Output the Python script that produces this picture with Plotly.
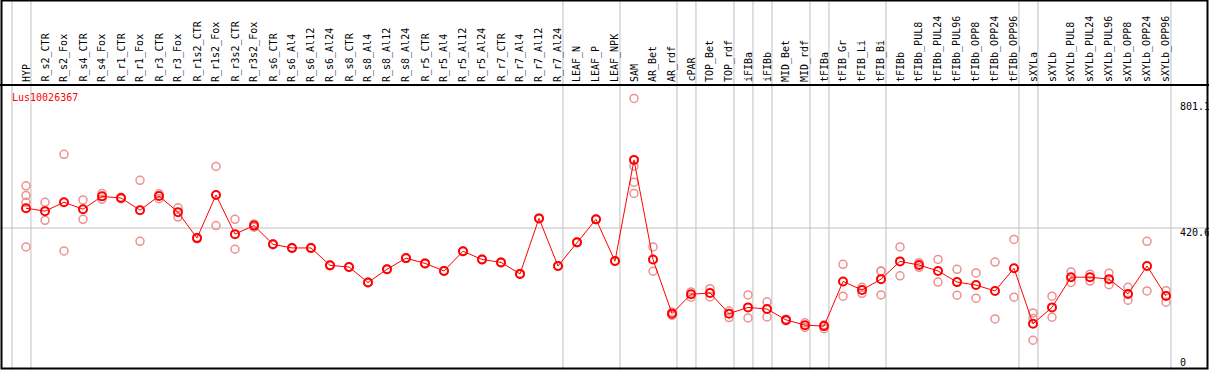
import plotly.graph_objects as go

categories = ["HYP", "R_s2_CTR", "R_s2_Fox", "R_s4_CTR", "R_s4_Fox", "R_r1_CTR", "R_r1_Fox",
              "R_r3_CTR", "R_r3_Fox", "R_r1s2_CTR", "R_r1s2_Fox", "R_r3s2_CTR", "R_r3s2_Fox",
              "R_s6_CTR", "R_s6_Al4", "R_s6_Al12", "R_s6_Al24", "R_s8_CTR", "R_s8_Al4", "R_s8_Al12",
              "R_s8_Al24", "R_r5_CTR", "R_r5_Al4", "R_r5_Al12", "R_r5_Al24", "R_r7_CTR", "R_r7_Al4",
              "R_r7_Al12", "R_r7_Al24", "LEAF_N", "LEAF_P", "LEAF_NPK", "SAM", "AR_Bet", "AR_rdf",
              "cPAR", "TOP_Bet", "TOP_rdf", "iFIBa", "iFIBb", "MID_Bet", "MID_rdf", "tFIBa",
              "tFIB_Gr", "tFIB_Li", "tFIB_Bi", "tFIBb", "tFIBb_PUL8", "tFIBb_PUL24", "tFIBb_PUL96",
              "tFIBb_OPP8", "tFIBb_OPP24", "tFIBb_OPP96", "sXYLa", "sXYLb", "sXYLb_PUL8",
              "sXYLb_PUL24", "sXYLb_PUL96", "sXYLb_OPP8", "sXYLb_OPP24", "sXYLb_OPP96"]

means = [481, 472, 499, 478, 517, 512, 475, 518, 469, 390, 521, 402, 428,
         371, 360, 360, 307, 302, 255, 295, 329, 313, 290, 350, 325, 316, 281,
         450, 305, 377, 447, 320, 628, 325, 160, 219, 223, 160, 179, 174, 141,
         125, 122, 258, 232, 265, 319, 308, 290, 256, 247, 229, 298, 129, 179,
         271, 271, 265, 220, 305, 214]

replicates = [[549, 520, 499, 363], [499, 444], [645, 351], [506, 447], [526, 508],
              [514, 510], [566, 380], [525, 510], [482, 454], [392, 388], [608, 428],
              [447, 356], [433, 423], [372, 370], [361, 359], [361, 359], [308, 306],
              [303, 301], [256, 254], [296, 294], [330, 328], [314, 312], [291, 289],
              [351, 349], [326, 324], [317, 315], [282, 280], [451, 449], [306, 304],
              [378, 376], [448, 446], [321, 319], [815, 609, 560, 526], [363, 289],
              [165, 155], [226, 210], [236, 211], [168, 148], [217, 147], [196, 150],
              [143, 138], [132, 118], [126, 114], [310, 213], [240, 222], [289, 217, 290],
              [363, 275], [315, 301], [325, 256], [295, 216], [284, 207], [317, 144],
              [386, 210], [162, 79, 145], [213, 149], [287, 255], [280, 259], [283, 248],
              [240, 201], [380, 229], [230, 195]]

y_ticks = [0, 420.6, 801.1]
group_ends = [-1, 0, 28, 31, 34, 35, 37, 38, 39, 41, 42, 45, 52, 53, 60]
gene = "Lus10026367"

W, H = 1209, 370
X0, DX = 26.0, 19.0          # pixel of first category, spacing
Y0, SY = 366.2, 0.3285       # pixel of value 0, pixels per unit

idx = list(range(len(categories)))

rx, ry = [], []
for i, reps in enumerate(replicates):
    for v in reps:
        rx.append(i)
        ry.append(v)

fig = go.Figure()
fig.add_trace(go.Scatter(x=rx, y=ry, mode="markers",
                         marker=dict(symbol="circle-open", size=8, color="#EE9090",
                                     line=dict(width=1.5, color="#EE9090")),
                         hoverinfo="skip", showlegend=False))
fig.add_trace(go.Scatter(x=idx, y=means, mode="lines+markers",
                         line=dict(color="#FF0000", width=1),
                         marker=dict(symbol="circle-open", size=8, color="#FF0000",
                                     line=dict(width=2, color="#FF0000")),
                         showlegend=False))

shapes = []
for g in group_ends:
    shapes.append(dict(type="line", xref="x", yref="paper", x0=g + 0.26, x1=g + 0.26,
                       y0=0, y1=1, line=dict(color="#C0C0C0", width=1), layer="below"))
shapes.append(dict(type="line", xref="paper", yref="y", x0=0, x1=1, y0=y_ticks[1], y1=y_ticks[1],
                   line=dict(color="#C0C0C0", width=1), layer="below"))
# frame
shapes.append(dict(type="line", xref="paper", yref="paper", x0=0, x1=1,
                   y0=1 - 85 / H, y1=1 - 85 / H, line=dict(color="black", width=2)))
shapes.append(dict(type="rect", xref="paper", yref="paper", x0=1.5 / W, x1=1207.5 / W,
                   y0=1 - 368.5 / H, y1=1 - 0.5 / H, line=dict(color="black", width=2)))

annotations = []
for i, c in enumerate(categories):
    annotations.append(dict(x=i, y=1 - 83 / H, xref="x", yref="paper", text=c,
                            textangle=-90, showarrow=False, xanchor="center", yanchor="bottom",
                            font=dict(family="DejaVu Sans Mono", size=10, color="black"),
                            borderpad=0))
annotations.append(dict(x=10 / W, y=1 - 97 / H, xref="paper", yref="paper", text=gene,
                        showarrow=False, xanchor="left", yanchor="middle",
                        font=dict(family="DejaVu Sans Mono", size=10, color="#FF0000")))
ylab_pix = {0: 362, 420.6: 232, 801.1: 107}
for t in y_ticks:
    annotations.append(dict(x=1178 / W, y=1 - ylab_pix[t] / H, xref="paper", yref="paper",
                            text=f"{t:g}", showarrow=False, xanchor="left", yanchor="middle",
                            font=dict(family="DejaVu Sans Mono", size=10, color="black")))

fig.update_layout(
    width=W, height=H, margin=dict(l=0, r=0, t=0, b=0),
    paper_bgcolor="white", plot_bgcolor="white",
    xaxis=dict(range=[-X0 / DX, (W - X0) / DX], visible=False, fixedrange=True),
    yaxis=dict(range=[-(H - Y0) / SY, Y0 / SY], visible=False, fixedrange=True),
    shapes=shapes, annotations=annotations,
)
fig.write_html("out.html", config={"displayModeBar": False},
               post_script="document.body.style.margin='0px';")
